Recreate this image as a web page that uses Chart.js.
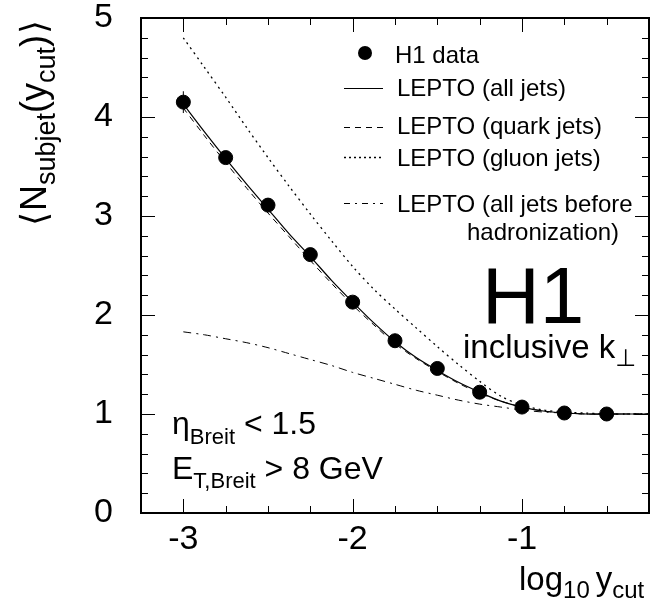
<!DOCTYPE html>
<html>
<head>
<meta charset="utf-8">
<script src="https://cdn.jsdelivr.net/npm/chart.js@4.4.1/dist/chart.umd.min.js"></script>
<style>
html,body{margin:0;padding:0;background:#fff;}
#wrap{width:651px;height:606px;}
</style>
</head>
<body>
<div id="wrap"><canvas id="c" width="651" height="606"></canvas></div>
<script>
// ---- data ----
const dataX = [-3, -2.75, -2.5, -2.25, -2, -1.75, -1.5, -1.25, -1, -0.75, -0.5];
const h1Data = [4.15, 3.59, 3.11, 2.61, 2.13, 1.74, 1.46, 1.22, 1.07, 1.01, 1.00];
const modelX = [-3, -2.875, -2.75, -2.625, -2.5, -2.375, -2.25, -2.125, -2, -1.875, -1.75, -1.625, -1.5, -1.375, -1.25, -1.125, -1, -0.875, -0.75, -0.625, -0.5, -0.375, -0.25];
const leptoAll   = [4.13, 3.85, 3.58, 3.32, 3.07, 2.82, 2.59, 2.35, 2.13, 1.92, 1.73, 1.57, 1.44, 1.32, 1.22, 1.13, 1.07, 1.03, 1.01, 1.00, 1.00, 1.00, 1.00];
const leptoQuark = [4.09, 3.81, 3.54, 3.28, 3.03, 2.79, 2.55, 2.32, 2.10, 1.90, 1.71, 1.56, 1.43, 1.31, 1.21, 1.13, 1.07, 1.03, 1.01, 1.00, 1.00, 1.00, 1.00];
const leptoGluon = [4.80, 4.50, 4.20, 3.89, 3.59, 3.30, 3.02, 2.75, 2.49, 2.26, 2.06, 1.87, 1.68, 1.50, 1.33, 1.18, 1.09, 1.04, 1.02, 1.01, 1.00, 1.00, 1.00];
const leptoParton= [1.83, 1.80, 1.76, 1.72, 1.67, 1.61, 1.55, 1.49, 1.42, 1.36, 1.30, 1.24, 1.19, 1.14, 1.10, 1.07, 1.04, 1.02, 1.01, 1.00, 1.00, 1.00, 1.00];
const xTickLabels = [-3, -2, -1];
const yTickLabels = [0, 1, 2, 3, 4, 5];

const FONT = "'Liberation Sans', Arial, Helvetica, sans-serif";
const pts = (xs, ys) => xs.map((x, i) => ({x: x, y: ys[i]}));
const isInt = v => Math.abs(v - Math.round(v)) < 1e-6;

function drawRich(ctx, parts, x, y) {
  let cx = x;
  for (const p of parts) {
    ctx.font = p.size + 'px ' + (p.family || FONT);
    ctx.fillText(p.t, cx, y + (p.dy || 0));
    cx += ctx.measureText(p.t).width + (p.gap || 0);
  }
  return cx - x;
}
function richWidth(ctx, parts) {
  let w = 0;
  for (const p of parts) { ctx.font = p.size + 'px ' + (p.family || FONT); w += ctx.measureText(p.t).width + (p.gap || 0); }
  return w;
}

const decor = {
  id: 'decor',
  afterDraw(chart) {
    const ctx = chart.ctx;
    const a = chart.chartArea;
    const xs = chart.scales.x, ys = chart.scales.y;
    ctx.save();
    ctx.strokeStyle = '#000';
    ctx.fillStyle = '#000';
    // ticks (inward, all four sides)
    ctx.lineWidth = 1;
    ctx.beginPath();
    xs.ticks.forEach(t => {
      const px = Math.round(xs.getPixelForValue(t.value)) + 0.5;
      const len = isInt(t.value) ? 14 : 7;
      ctx.moveTo(px, a.bottom); ctx.lineTo(px, a.bottom - len);
      ctx.moveTo(px, a.top); ctx.lineTo(px, a.top + len);
    });
    ys.ticks.forEach(t => {
      const py = Math.round(ys.getPixelForValue(t.value)) + 0.5;
      const len = isInt(t.value) ? 14 : 7;
      ctx.moveTo(a.left, py); ctx.lineTo(a.left + len, py);
      ctx.moveTo(a.right, py); ctx.lineTo(a.right - len, py);
    });
    ctx.stroke();
    // frame
    ctx.lineWidth = 2;
    ctx.strokeRect(a.left, a.top, a.right - a.left, a.bottom - a.top);

    // small error bar on first data point
    ctx.lineWidth = 1;
    const ex = xs.getPixelForValue(dataX[0]);
    ctx.beginPath();
    ctx.moveTo(ex, ys.getPixelForValue(h1Data[0] + 0.11));
    ctx.lineTo(ex, ys.getPixelForValue(h1Data[0] - 0.11));
    ctx.stroke();

    // legend
    ctx.beginPath(); ctx.arc(365, 53, 7, 0, Math.PI * 2); ctx.fill();
    const seg = (y, dash, lw) => { ctx.lineWidth = lw || 1; ctx.setLineDash(dash); ctx.beginPath(); ctx.moveTo(344, y); ctx.lineTo(383, y); ctx.stroke(); };
    seg(88.5, []);
    seg(127.5, [6, 5]);
    seg(157.5, [2, 3], 1.3);
    seg(203.5, [6, 5, 2, 5]);
    ctx.setLineDash([]);
    ctx.font = '24px ' + FONT;
    ctx.textBaseline = 'alphabetic';
    ctx.textAlign = 'left';
    ctx.fillText('H1 data', 395, 63);
    ctx.fillText('LEPTO (all jets)', 397, 96);
    ctx.fillText('LEPTO (quark jets)', 397, 134);
    ctx.fillText('LEPTO (gluon jets)', 397, 166);
    ctx.fillText('LEPTO (all jets before', 397, 212);
    ctx.fillText('hadronization)', 467, 240);

    // H1 logo
    ctx.font = '80px ' + FONT;
    ctx.fillText('H1', 482, 323);
    drawRich(ctx, [{t: 'inclusive k', size: 33}, {t: '\u22A5', size: 24, dy: 8, family: "'DejaVu Sans', sans-serif"}], 463, 358);

    // cuts
    drawRich(ctx, [{t: '\u03B7', size: 32}, {t: 'Breit', size: 22, dy: 10}, {t: ' < 1.5', size: 32}], 172, 434);
    drawRich(ctx, [{t: 'E', size: 32}, {t: 'T,Breit', size: 22, dy: 9}, {t: ' > 8 GeV', size: 32}], 172, 479);

    // x title
    drawRich(ctx, [{t: 'log', size: 33}, {t: '10', size: 24, dy: 8, gap: 6}, {t: 'y', size: 33}, {t: 'cut', size: 24, dy: 8}], 519, 590);

    // y title (rotated)
    const yparts = [
      {t: '\u27E8', size: 36, family: "'DejaVu Sans', sans-serif", gap: 1},
      {t: 'N', size: 36}, {t: 'subjet', size: 27, dy: 9},
      {t: '(', size: 36}, {t: 'y', size: 36}, {t: 'cut', size: 27, dy: 9},
      {t: ')', size: 36, gap: 1},
      {t: '\u27E9', size: 36, family: "'DejaVu Sans', sans-serif"}
    ];
    const w = richWidth(ctx, yparts);
    ctx.translate(46, 123 + w / 2);
    ctx.rotate(-Math.PI / 2);
    drawRich(ctx, yparts, 0, 0);
    ctx.restore();
  }
};

new Chart(document.getElementById('c'), {
  type: 'scatter',
  data: {
    datasets: [
      {label: 'H1 data', data: pts(dataX, h1Data), showLine: false, pointRadius: 7, pointHoverRadius: 7,
       backgroundColor: '#000', borderColor: '#000', order: 0},
      {label: 'LEPTO (all jets)', data: pts(modelX, leptoAll), showLine: true, pointRadius: 0,
       borderColor: '#000', borderWidth: 1.2, tension: 0.3, order: 1},
      {label: 'LEPTO (quark jets)', data: pts(modelX, leptoQuark), showLine: true, pointRadius: 0,
       borderColor: '#000', borderWidth: 1, borderDash: [6, 5], tension: 0.3, order: 2},
      {label: 'LEPTO (gluon jets)', data: pts(modelX, leptoGluon), showLine: true, pointRadius: 0,
       borderColor: '#000', borderWidth: 1.3, borderDash: [2, 4], tension: 0.3, order: 3},
      {label: 'LEPTO (all jets before hadronization)', data: pts(modelX, leptoParton), showLine: true, pointRadius: 0,
       borderColor: '#000', borderWidth: 1, borderDash: [8, 5, 2, 5], tension: 0.3, order: 4}
    ]
  },
  options: {
    responsive: false,
    animation: false,
    devicePixelRatio: 1,
    layout: {autoPadding: false, padding: {top: 18, right: 2, left: 0, bottom: 0}},
    plugins: {legend: {display: false}, tooltip: {enabled: false}},
    scales: {
      x: {
        type: 'linear', min: -3.25, max: -0.25,
        grid: {display: false, drawTicks: false}, border: {display: false},
        ticks: {stepSize: 0.25, autoSkip: false, maxRotation: 0, padding: 6, color: '#000',
                font: {family: FONT, size: 34},
                callback: v => (isInt(v) && xTickLabels.includes(Math.round(v))) ? String(Math.round(v)) : ''},
        afterFit: s => { s.height = 93; s.paddingLeft = 0; s.paddingRight = 0; }
      },
      y: {
        type: 'linear', min: 0, max: 5,
        grid: {display: false, drawTicks: false}, border: {display: false},
        ticks: {stepSize: 0.2, autoSkip: false, padding: 28, color: '#000',
                font: {family: FONT, size: 34},
                callback: v => (isInt(v) && yTickLabels.includes(Math.round(v))) ? String(Math.round(v)) : ''},
        afterFit: s => { s.width = 141; s.paddingTop = 0; s.paddingBottom = 0; }
      }
    }
  },
  plugins: [decor]
});
</script>
</body>
</html>
